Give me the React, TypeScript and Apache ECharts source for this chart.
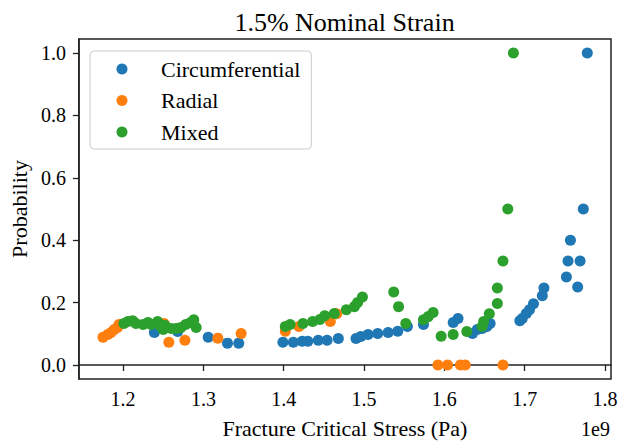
import React, { useEffect, useRef } from "react";
import * as echarts from "echarts";

// Fracture critical stress in units of 1e9 Pa, probability
const circStress = [1.239, 1.268, 1.306, 1.33, 1.344, 1.399, 1.412, 1.423, 1.43, 1.443, 1.454, 1.468, 1.49, 1.496, 1.505, 1.517, 1.53, 1.542, 1.554, 1.574, 1.611, 1.617, 1.635, 1.641, 1.647, 1.653, 1.657, 1.694, 1.697, 1.702, 1.706, 1.711, 1.722, 1.724, 1.752, 1.754, 1.757, 1.769, 1.766, 1.773, 1.778];
const circProb = [0.104, 0.107, 0.089, 0.07, 0.07, 0.073, 0.073, 0.076, 0.076, 0.079, 0.079, 0.085, 0.085, 0.091, 0.098, 0.101, 0.104, 0.108, 0.123, 0.13, 0.136, 0.149, 0.101, 0.114, 0.117, 0.123, 0.133, 0.142, 0.149, 0.165, 0.177, 0.196, 0.222, 0.247, 0.282, 0.333, 0.4, 0.333, 0.25, 0.5, 1.0];

const radStress = [1.175, 1.181, 1.185, 1.189, 1.193, 1.195, 1.251, 1.257, 1.277, 1.318, 1.347, 1.402, 1.419, 1.458, 1.466, 1.592, 1.604, 1.62, 1.626, 1.673];
const radProb = [0.089, 0.098, 0.104, 0.114, 0.12, 0.13, 0.133, 0.073, 0.079, 0.086, 0.101, 0.108, 0.123, 0.139, 0.164, 0.0, 0.0, 0.0, 0.0, 0.0];

const mixStress = [1.201, 1.206, 1.212, 1.216, 1.225, 1.231, 1.235, 1.243, 1.247, 1.252, 1.25, 1.26, 1.266, 1.272, 1.278, 1.284, 1.288, 1.291, 1.402, 1.408, 1.424, 1.436, 1.445, 1.451, 1.463, 1.478, 1.488, 1.492, 1.498, 1.537, 1.543, 1.552, 1.574, 1.58, 1.586, 1.596, 1.611, 1.628, 1.647, 1.649, 1.656, 1.666, 1.666, 1.673, 1.679, 1.686];
const mixProb = [0.133, 0.139, 0.142, 0.133, 0.13, 0.136, 0.13, 0.139, 0.123, 0.127, 0.114, 0.117, 0.117, 0.12, 0.13, 0.136, 0.145, 0.12, 0.123, 0.13, 0.133, 0.139, 0.146, 0.158, 0.165, 0.177, 0.187, 0.2, 0.218, 0.234, 0.187, 0.133, 0.145, 0.155, 0.168, 0.092, 0.098, 0.107, 0.123, 0.139, 0.164, 0.197, 0.247, 0.333, 0.5, 1.0];

const xTicks = [1.2, 1.3, 1.4, 1.5, 1.6, 1.7, 1.8];
const yTicks = [0.0, 0.2, 0.4, 0.6, 0.8, 1.0];
const seriesNames = ["Circumferential", "Radial", "Mixed"];
const colors = ["#1f77b4", "#ff7f0e", "#2ca02c"];

const FONT = "Liberation Serif";

function zip(xs: number[], ys: number[]) {
  return xs.map((x, i) => [x, ys[i]]);
}

export default function App() {
  const ref = useRef<HTMLDivElement>(null);
  useEffect(() => {
    if (!ref.current) return;
    const chart = echarts.init(ref.current, undefined, { renderer: "svg" });
    const datasets = [zip(circStress, circProb), zip(radStress, radProb), zip(mixStress, mixProb)];
    chart.setOption({
      animation: false,
      backgroundColor: "#ffffff",
      textStyle: { fontFamily: FONT },
      title: {
        text: "1.5% Nominal Strain",
        left: 344.5,
        textAlign: "center",
        top: 9,
        padding: 0,
        textStyle: { fontFamily: FONT, fontSize: 26, fontWeight: "normal", color: "#000" },
      },
      grid: {
        left: 78,
        right: 13,
        top: 39,
        bottom: 61,
        show: true,
        borderColor: "#222",
        borderWidth: 1.5,
        backgroundColor: "transparent",
      },
      legend: {
        orient: "vertical",
        left: 90,
        top: 51,
        data: seriesNames,
        icon: "circle",
        itemWidth: 11,
        itemHeight: 11,
        itemGap: 9.5,
        padding: [7, 11, 6, 26.5],
        borderColor: "#cccccc",
        borderWidth: 1,
        borderRadius: 4,
        backgroundColor: "rgba(255,255,255,0.8)",
        textStyle: { fontFamily: FONT, fontSize: 22, lineHeight: 22, color: "#000", padding: [0, 0, 0, 28.5] },
      },
      xAxis: {
        type: "value",
        min: 1.145,
        max: 1.8075,
        name: "Fracture Critical Stress (Pa)",
        nameLocation: "middle",
        nameGap: 38,
        nameTextStyle: { fontFamily: FONT, fontSize: 22, color: "#000" },
        axisLine: { show: true, lineStyle: { color: "#222", width: 1.5 } },
        axisTick: { show: true, length: 6, lineStyle: { color: "#222", width: 1.3 }, customValues: xTicks },
        axisLabel: {
          fontFamily: FONT,
          fontSize: 20,
          color: "#000",
          margin: 10,
          customValues: xTicks,
          formatter: (v: number) => v.toFixed(1),
        },
        splitLine: { show: false },
      },
      yAxis: {
        type: "value",
        min: -0.045,
        max: 1.045,
        name: "Probability",
        nameLocation: "middle",
        nameGap: 45,
        nameTextStyle: { fontFamily: FONT, fontSize: 22, color: "#000" },
        axisLine: { show: true, lineStyle: { color: "#222", width: 1.5 } },
        axisTick: { show: true, length: 6, lineStyle: { color: "#222", width: 1.3 }, customValues: yTicks },
        axisLabel: {
          fontFamily: FONT,
          fontSize: 20,
          color: "#000",
          margin: 13,
          customValues: yTicks,
          formatter: (v: number) => v.toFixed(1),
        },
        splitLine: { show: false },
      },
      graphic: [
        {
          type: "text",
          right: 14,
          top: 419,
          style: { text: "1e9", fontFamily: FONT, fontSize: 20, fill: "#000" },
        },
      ],
      series: seriesNames.map((name, i) => ({
        name,
        type: "scatter",
        data: datasets[i],
        symbol: "circle",
        symbolSize: 11,
        itemStyle: { color: colors[i], opacity: 1 },
        emphasis: { disabled: true },
      })),
    });
    return () => chart.dispose();
  }, []);
  return <div ref={ref} style={{ position: "absolute", left: 0, top: 0, width: 624, height: 444 }} />;
}
